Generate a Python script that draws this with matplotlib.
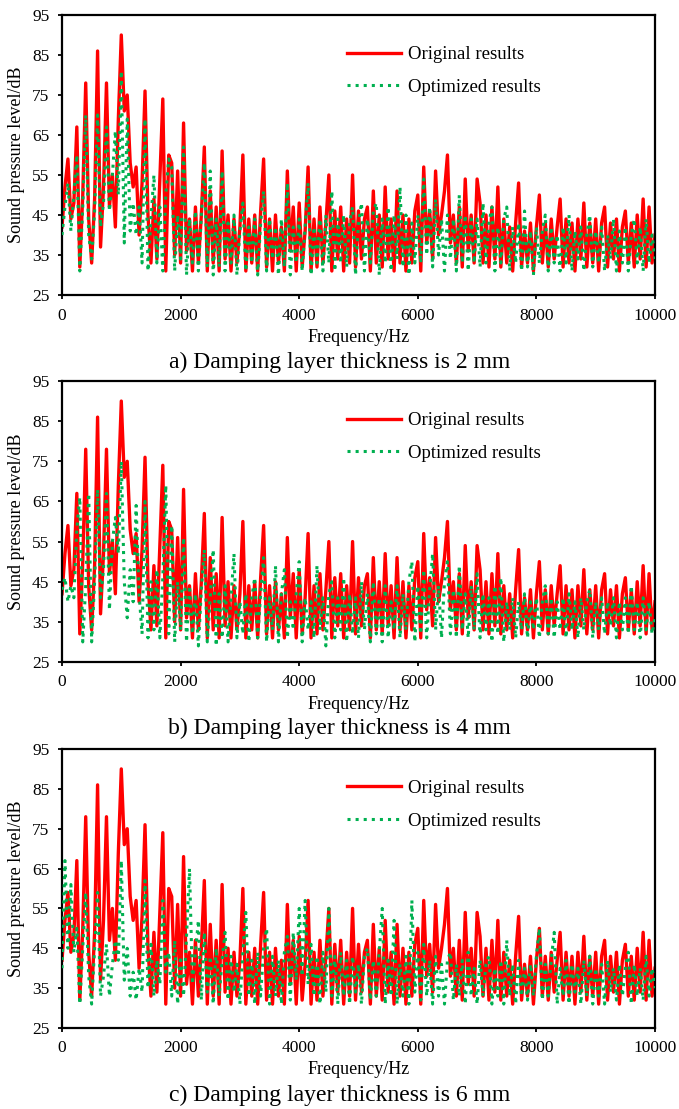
import numpy as np
import matplotlib
matplotlib.use("Agg")
import matplotlib.pyplot as plt

plt.rcParams["font.family"] = ["Liberation Serif", "DejaVu Serif"]

# frequency grid (Hz), one reading every 50 Hz
freq = np.arange(0, 10001, 50)

# original spectrum (same in all three panels), dB
original = [
    42, 52, 59, 44, 48, 67, 32, 50, 78, 44, 33, 49, 86, 37, 52, 78, 47, 55, 42, 69,
    90, 71, 75, 58, 52, 57, 40, 53, 76, 45, 33, 49, 34, 54, 74, 31, 60, 58, 35, 56,
    33, 68, 36, 44, 31, 47, 33, 45, 62, 31, 51, 33, 47, 31, 61, 34, 45, 31, 44, 33,
    42, 60, 31, 44, 33, 45, 31, 46, 59, 32, 44, 31, 45, 33, 42, 31, 56, 36, 47, 31,
    48, 32, 41, 57, 31, 44, 32, 47, 33, 43, 55, 31, 46, 34, 47, 31, 44, 33, 55, 32,
    46, 34, 44, 47, 31, 51, 33, 45, 32, 52, 34, 44, 31, 51, 33, 45, 31, 44, 33, 46,
    50, 31, 57, 38, 46, 34, 56, 40, 45, 51, 60, 38, 45, 33, 47, 32, 54, 36, 45, 33,
    54, 48, 33, 45, 32, 47, 34, 52, 32, 44, 33, 42, 31, 43, 53, 32, 41, 33, 43, 31,
    42, 50, 33, 43, 32, 44, 34, 42, 49, 32, 44, 33, 43, 31, 44, 34, 48, 32, 43, 33,
    44, 31, 43, 47, 32, 43, 34, 44, 31, 42, 46, 33, 43, 32, 45, 34, 49, 32, 47, 33,
    40,
]

# optimized spectrum, damping layer 2 mm
opt_2mm = [
    40, 47, 53, 41, 50, 60, 31, 47, 70, 40, 34, 46, 70, 42, 48, 67, 46, 55, 66, 50,
    81, 38, 69, 41, 48, 40, 47, 33, 69, 31, 44, 55, 33, 47, 31, 50, 59, 57, 31, 45,
    34, 62, 30, 44, 33, 46, 31, 45, 58, 32, 56, 30, 44, 32, 56, 31, 43, 33, 45, 30,
    41, 48, 31, 42, 33, 44, 30, 43, 51, 31, 44, 34, 42, 30, 44, 32, 53, 30, 42, 33,
    44, 31, 42, 53, 30, 42, 33, 44, 31, 45, 33, 51, 31, 44, 33, 45, 32, 43, 47, 30,
    43, 48, 31, 44, 33, 46, 48, 30, 44, 33, 47, 31, 45, 34, 52, 32, 45, 30, 43, 33,
    45, 33, 54, 35, 47, 32, 49, 35, 44, 31, 45, 34, 44, 31, 50, 33, 45, 31, 44, 33,
    44, 32, 48, 33, 43, 47, 31, 42, 33, 44, 47, 31, 42, 33, 43, 31, 46, 32, 41, 30,
    42, 33, 41, 45, 31, 42, 33, 40, 31, 42, 33, 45, 31, 41, 34, 42, 31, 40, 45, 32,
    41, 33, 42, 31, 40, 34, 44, 31, 41, 33, 42, 31, 40, 44, 33, 42, 31, 44, 33, 40,
    34,
]

# optimized spectrum, damping layer 4 mm
opt_4mm = [
    43, 46, 40, 44, 41, 58, 66, 30, 44, 67, 30, 45, 68, 41, 48, 67, 38, 55, 61, 52,
    75, 45, 36, 48, 40, 64, 42, 32, 65, 31, 45, 33, 48, 31, 46, 69, 32, 59, 30, 45,
    33, 56, 30, 44, 32, 42, 29, 43, 53, 30, 41, 53, 29, 42, 31, 44, 30, 41, 52, 31,
    40, 32, 42, 30, 41, 46, 31, 42, 51, 30, 41, 33, 49, 30, 42, 48, 31, 40, 33, 42,
    50, 30, 41, 33, 40, 31, 49, 33, 41, 29, 42, 45, 31, 41, 33, 46, 30, 42, 32, 41,
    31, 45, 33, 42, 30, 45, 32, 41, 30, 44, 31, 40, 33, 44, 31, 42, 33, 45, 50, 30,
    44, 32, 48, 31, 43, 52, 33, 44, 31, 45, 50, 32, 43, 31, 49, 33, 42, 31, 44, 33,
    47, 31, 42, 33, 41, 30, 44, 32, 46, 30, 40, 33, 41, 31, 40, 33, 42, 31, 40, 33,
    41, 31, 40, 44, 32, 41, 31, 40, 33, 41, 31, 42, 33, 40, 31, 41, 33, 40, 43, 31,
    40, 33, 41, 32, 40, 34, 41, 31, 40, 33, 41, 32, 44, 33, 40, 31, 41, 33, 40, 32,
    36,
]

# optimized spectrum, damping layer 6 mm
opt_6mm = [
    40, 67, 45, 61, 44, 50, 31, 45, 59, 38, 31, 45, 59, 33, 38, 46, 33, 41, 47, 42,
    67, 37, 45, 33, 39, 32, 40, 34, 62, 35, 46, 33, 42, 36, 57, 39, 44, 33, 47, 31,
    43, 33, 48, 65, 36, 44, 52, 32, 49, 34, 43, 31, 45, 33, 42, 49, 32, 43, 34, 41,
    31, 44, 54, 33, 42, 31, 44, 33, 45, 50, 31, 43, 33, 42, 31, 44, 48, 32, 49, 37,
    55, 38, 57, 36, 46, 33, 43, 31, 44, 34, 55, 33, 43, 31, 44, 33, 42, 31, 43, 34,
    41, 31, 43, 45, 32, 42, 33, 44, 55, 31, 42, 33, 52, 31, 41, 33, 43, 31, 57, 34,
    44, 32, 46, 33, 42, 31, 43, 33, 41, 31, 42, 44, 32, 41, 33, 42, 31, 44, 33, 40,
    31, 42, 33, 41, 43, 31, 40, 33, 42, 31, 47, 33, 41, 31, 42, 33, 40, 32, 41, 33,
    43, 50, 32, 41, 33, 42, 49, 31, 40, 33, 42, 31, 41, 34, 40, 31, 42, 33, 43, 31,
    40, 33, 41, 31, 42, 34, 40, 32, 41, 33, 40, 44, 31, 41, 33, 40, 32, 43, 33, 40,
    35,
]

captions = [
    "a) Damping layer thickness is 2 mm",
    "b) Damping layer thickness is 4 mm",
    "c) Damping layer thickness is 6 mm",
]
optimized = [opt_2mm, opt_4mm, opt_6mm]

W, H = 679, 1109
# axes boxes in pixels: (top, bottom), shared left/right
ax_left, ax_right = 62, 655
boxes = [(15, 295), (381, 662), (749, 1028)]
caption_y = [362, 728, 1095]

fig = plt.figure(figsize=(W / 100, H / 100), dpi=100)


def draw_panel(ax, opt, caption, cap_y):
    ax.plot(freq, original, color="#ff0000", lw=2.4, label="Original results", zorder=2)
    ax.plot(freq, opt, color="#00b050", lw=2.2, ls=":", label="Optimized results", zorder=3)
    ax.set_xlim(0, 10000)
    ax.set_ylim(25, 95)
    ax.set_xticks(range(0, 10001, 2000))
    ax.set_yticks(range(25, 96, 10))
    ax.tick_params(direction="out", length=3, width=1.3, labelsize=12.5, pad=6)
    for sp in ax.spines.values():
        sp.set_linewidth(1.6)
    ax.set_xlabel("Frequency/Hz", fontsize=13, va="center")
    ax.xaxis.set_label_coords(0.5, -42 / 280)
    ax.set_ylabel("Sound pressure level/dB", fontsize=13, va="center")
    ax.yaxis.set_label_coords(-45 / 593, 0.5)
    ax.legend(loc="upper left", bbox_to_anchor=((347 - ax_left) / 593, 1 - 31 / 280),
              frameon=False, fontsize=13.5, borderpad=0, borderaxespad=0,
              handlelength=2.9, handletextpad=0.35, labelspacing=0.82)
    fig.text(0.5, 1 - cap_y / H, caption, ha="center", va="center", fontsize=17)


for (top, bottom), opt, cap, cy in zip(boxes, optimized, captions, caption_y):
    ax = fig.add_axes([ax_left / W, 1 - bottom / H, (ax_right - ax_left) / W, (bottom - top) / H])
    draw_panel(ax, opt, cap, cy)

fig.savefig("out.png", dpi=100)
